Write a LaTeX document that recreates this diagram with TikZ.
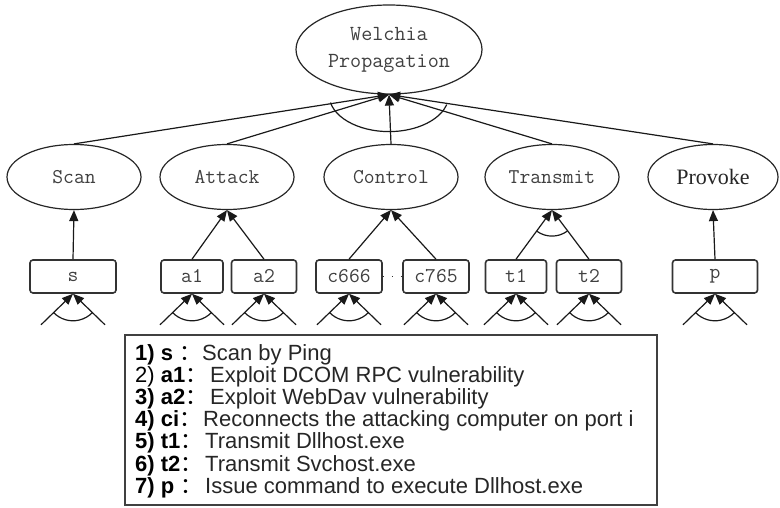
\documentclass[tikz,border=0pt]{standalone}
\usepackage{fontspec}
\newfontfamily\legendfont{Liberation Sans}
\newfontfamily\timesfont{Liberation Serif}
\newfontfamily\cjk{Noto Sans CJK SC}
\usetikzlibrary{arrows.meta,shapes.geometric}
\begin{document}
\begin{tikzpicture}[x=1pt,y=-1pt,
  tip/.style={-{Triangle[length=11pt,width=9pt]}},
  conn/.style={line width=1.2pt, draw=black!90},
  goal/.style={ellipse, draw=black!85, line width=1.2pt, inner sep=0pt,
    minimum width=134pt, minimum height=65pt,
    font=\fontsize{21}{25}\selectfont\ttfamily, text=black!75},
  leaf/.style={rectangle, rounded corners=3pt, draw=black!80, line width=1.6pt,
    minimum height=33pt, inner sep=0pt,
    font=\fontsize{21}{25}\selectfont\ttfamily, text=black!75},
  lbl/.style={anchor=base west, inner sep=0pt, font=\fontsize{22}{26}\selectfont\legendfont, text=black},
  dsc/.style={anchor=base west, inner sep=0pt, font=\fontsize{22}{26}\selectfont\legendfont, text=black!85},
  ]
\fill[white] (0,0) rectangle (780,508);
\useasboundingbox (0,0) rectangle (780,508);

% top goal
\node[goal, minimum width=186pt, minimum height=89pt, align=center,
  font=\fontsize{21.5}{27}\selectfont\ttfamily] (W) at (389,49.5) {Welchia\\Propagation};

% sub goals
\node[goal] (scan) at (74,177) {Scan};
\node[goal] (attack) at (227,177) {Attack};
\node[goal] (control) at (391,177) {Control};
\node[goal] (transmit) at (552,177) {Transmit};
\node[goal, minimum width=130pt, font=\fontsize{22}{26}\selectfont\timesfont, text=black!85] (provoke) at (713,177) {Provoke};

% leaves
\node[leaf, minimum width=86pt] (s) at (73,276.5) {s};
\node[leaf, minimum width=62pt] (a1) at (192,276.5) {a1};
\node[leaf, minimum width=65pt] (a2) at (264,276.5) {a2};
\node[leaf, minimum width=66pt] (c666) at (349,276.5) {c666};
\node[leaf, minimum width=66pt] (c765) at (436,276.5) {c765};
\node[leaf, minimum width=61pt] (t1) at (516,276.5) {t1};
\node[leaf, minimum width=65pt] (t2) at (589,276.5) {t2};
\node[leaf, minimum width=85pt] (p) at (715,276.5) {p};

\draw[line width=1.4pt, black!80, dash pattern=on 1.5pt off 7.5pt] (c666.east) -- (c765.west);

% connectors to top goal
\foreach \n in {scan,attack,control,transmit,provoke}
  \draw[conn,tip] (\n.north) -- (W.south);
\draw[conn] (W.south) ++(167.5:60 and 37) arc[start angle=167.5, end angle=15.7, x radius=60, y radius=37];

% leaves to sub goals
\draw[conn,tip] (s.north) -- (scan.south);
\draw[conn,tip] (a1.north) -- (attack.south);
\draw[conn,tip] (a2.north) -- (attack.south);
\draw[conn,tip] (c666.north) -- (control.south);
\draw[conn,tip] (c765.north) -- (control.south);
\draw[conn,tip] (t1.north) -- (transmit.south);
\draw[conn,tip] (t2.north) -- (transmit.south);
\draw[conn,tip] (p.north) -- (provoke.south);
\draw[conn] (transmit.south) ++(125.5:26) arc[start angle=125.5, end angle=53.8, radius=26];

% incoming stubs under each leaf
\foreach \b in {s,a1,a2,c666,c765,t1,t2,p} {
  \coordinate (\b-l) at ([shift={(-32,31)}]\b.south);
  \coordinate (\b-r) at ([shift={(32,31)}]\b.south);
  \draw[conn,tip] (\b-l) -- (\b.south);
  \draw[conn,tip] (\b-r) -- (\b.south);
  \draw[conn] (\b.south) ++(136:27) arc[start angle=136, end angle=44, radius=27];
}

% legend
\node[draw=black!75, line width=2.2pt, minimum width=532pt, minimum height=170pt, inner sep=0pt] (legend) at (391,420) {};
\node[lbl] (l1) at (135,360) {\textbf{1) s }\cjk{：}};
\node[dsc] (d1) at (202,360) {Scan by Ping};
\node[lbl] (l2) at (135,382.2) {2) \textbf{a1}\cjk{：}};
\node[dsc] (d2) at (210,382.2) {Exploit DCOM RPC vulnerability};
\node[lbl] (l3) at (135,404.4) {\textbf{3) a2}\cjk{：}};
\node[dsc] (d3) at (210,404.4) {Exploit WebDav vulnerability};
\node[lbl] (l4) at (135,426.6) {\textbf{4) ci}\cjk{：}};
\node[dsc] (d4) at (203,426.6) {Reconnects the attacking computer on port i};
\node[lbl] (l5) at (135,448.8) {\textbf{5) t1}\cjk{：}};
\node[dsc] (d5) at (205,448.8) {Transmit Dllhost.exe};
\node[lbl] (l6) at (135,471) {\textbf{6) t2}\cjk{：}};
\node[dsc] (d6) at (205,471) {Transmit Svchost.exe};
\node[lbl] (l7) at (135,493.2) {\textbf{7) p }\cjk{：}};
\node[dsc] (d7) at (205,493.2) {Issue command to execute Dllhost.exe};
\end{tikzpicture}
\end{document}
